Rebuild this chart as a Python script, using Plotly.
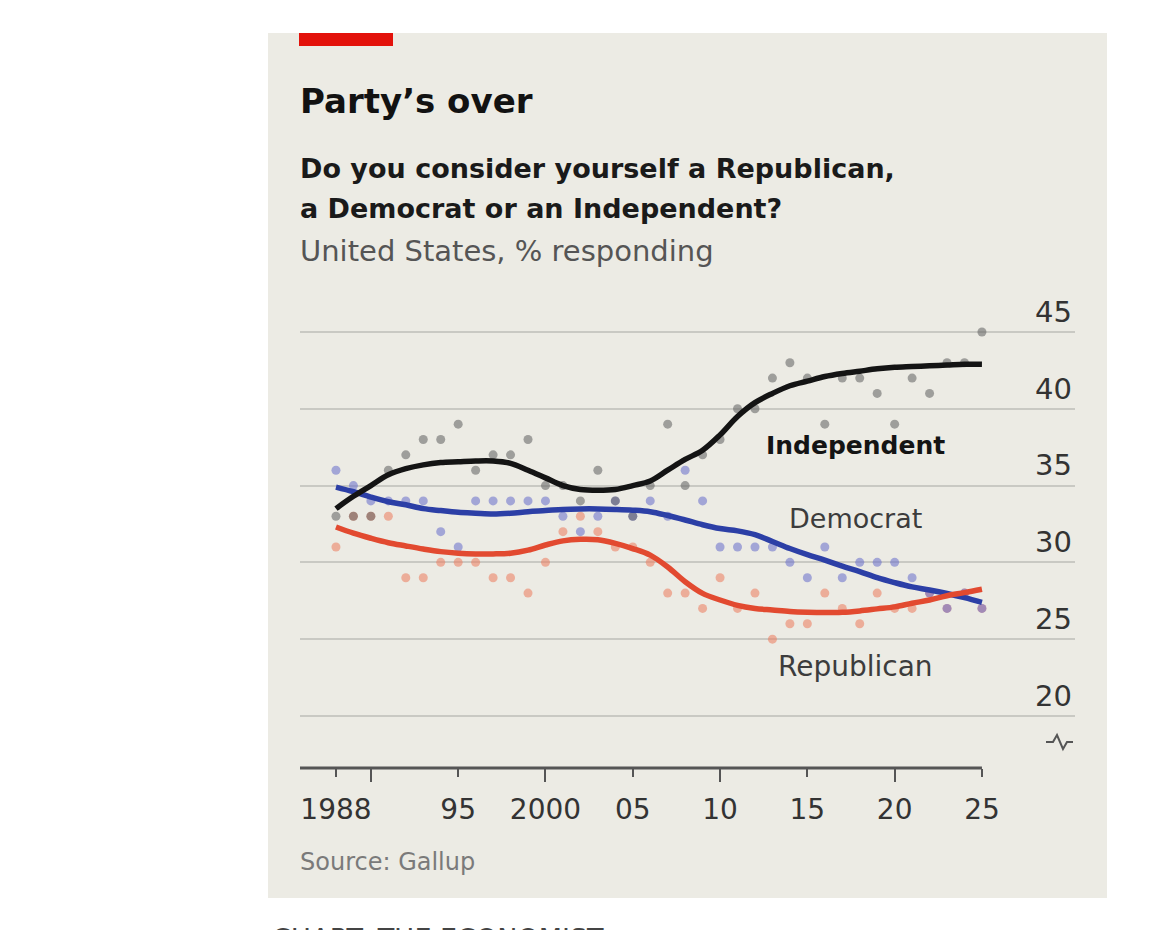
import plotly.graph_objects as go

# Gallup annual averages, % responding
years = list(range(1988, 2026))

independent = [33, 33, 33, 36, 37, 38, 38, 39, 36, 37,
               37, 38, 35, 35, 34, 36, 34, 33, 35, 39,
               35, 37, 38, 40, 40, 42, 43, 42, 39, 42,
               42, 41, 39, 42, 41, 43, 43, 45]
democrat = [36, 35, 34, 34, 34, 34, 32, 31, 34, 34,
            34, 34, 34, 33, 32, 33, 34, 33, 34, 33,
            36, 34, 31, 31, 31, 31, 30, 29, 31, 29,
            30, 30, 30, 29, 28, 27, 28, 27]
republican = [31, 33, 33, 33, 29, 29, 30, 30, 30, 29,
              29, 28, 30, 32, 33, 32, 31, 31, 30, 28,
              28, 27, 29, 27, 28, 25, 26, 26, 28, 27,
              26, 28, 27, 27, 28, 27, 28, 27]

# smoothed trend lines
independent_trend = [33.5, 34.3, 35.0, 35.7, 36.1, 36.35, 36.5, 36.55, 36.6, 36.6,
                     36.45, 36.0, 35.5, 35.0, 34.75, 34.7, 34.75, 35.0, 35.3, 36.0,
                     36.7, 37.3, 38.3, 39.5, 40.4, 41.0, 41.5, 41.8, 42.1, 42.3,
                     42.45, 42.6, 42.7, 42.75, 42.8, 42.85, 42.9, 42.9]
democrat_trend = [34.9, 34.6, 34.25, 33.95, 33.75, 33.5, 33.37, 33.26, 33.2, 33.15,
                  33.2, 33.3, 33.37, 33.45, 33.48, 33.48, 33.45, 33.4, 33.3, 33.05,
                  32.76, 32.45, 32.2, 32.05, 31.8, 31.36, 30.9, 30.5, 30.15, 29.75,
                  29.4, 29.0, 28.68, 28.4, 28.2, 27.97, 27.7, 27.4]
republican_trend = [32.3, 31.9, 31.57, 31.28, 31.07, 30.87, 30.7, 30.6, 30.55, 30.55,
                    30.6, 30.8, 31.13, 31.4, 31.5, 31.47, 31.24, 30.9, 30.47, 29.7,
                    28.74, 27.98, 27.55, 27.2, 27.0, 26.9, 26.8, 26.75, 26.73, 26.75,
                    26.84, 26.97, 27.1, 27.34, 27.55, 27.83, 28.03, 28.25]

x_tickvals = [1988, 1990, 1995, 2000, 2005, 2010, 2015, 2020, 2025]
x_ticktext = ["1988", "", "95", "2000", "05", "10", "15", "20", "25"]
y_tickvals = [20, 25, 30, 35, 40, 45]

FONT = "DejaVu Sans"
OFF = 8  # page body margin: figure starts 8px in from the window corner
W, H = 1152, 922
ML, MR, MT, MB = 292, 85, 277, 162
PW, PH = W - ML - MR, H - MT - MB
X_RANGE = [1985.94, 2030.33]
Y_RANGE = [16.61, 48.06]


# window pixels -> paper coordinates
def px(x):
    return (x - OFF - ML) / PW


def py(y):
    return (H - MB - (y - OFF)) / PH


fig = go.Figure()

dots = [(republican, "rgba(236,128,98,0.58)"),
        (democrat, "rgba(108,114,204,0.58)"),
        (independent, "rgba(95,95,95,0.55)")]
for vals, col in dots:
    fig.add_trace(go.Scatter(x=years, y=vals, mode="markers",
                             marker=dict(size=9, color=col, line=dict(width=0)),
                             hoverinfo="skip", showlegend=False))

lines = [(democrat_trend, "#2c3fa6"),
         (republican_trend, "#e24a30"),
         (independent_trend, "#141414")]
for vals, col in lines:
    fig.add_trace(go.Scatter(x=years, y=vals, mode="lines",
                             line=dict(color=col, width=5.5, shape="spline", smoothing=1),
                             hoverinfo="skip", showlegend=False))

shapes = [
    # card
    dict(type="rect", xref="paper", yref="paper", layer="below",
         x0=px(268), x1=px(1107), y0=py(898), y1=py(33),
         fillcolor="#ecebe4", line=dict(width=0)),
    # red tab
    dict(type="rect", xref="paper", yref="paper",
         x0=px(299), x1=px(393), y0=py(46), y1=py(33),
         fillcolor="#e3120b", line=dict(width=0)),
    # x axis line, stops at the last year
    dict(type="line", xref="x", yref="paper", x0=X_RANGE[0], x1=years[-1], y0=0, y1=0,
         line=dict(color="#555555", width=3)),
    # axis break mark
    dict(type="path", xref="paper", yref="paper",
         path="M {} {} L {} {} L {} {} L {} {} L {} {} L {} {}".format(
             px(1046), py(742), px(1053), py(742), px(1057), py(735),
             px(1063), py(749), px(1067), py(742), px(1073), py(742)),
         line=dict(color="#555555", width=2)),
]

annotations = [
    dict(text="<b>Party’s over</b>", x=px(298), y=py(101), font=dict(size=34, color="#121212")),
    dict(text="<b>Do you consider yourself a Republican,</b>", x=px(298), y=py(169),
         font=dict(size=27, color="#1a1a1a")),
    dict(text="<b>a Democrat or an Independent?</b>", x=px(298), y=py(208),
         font=dict(size=27, color="#1a1a1a")),
    dict(text="United States, % responding", x=px(298), y=py(251),
         font=dict(size=29, color="#555555")),
    dict(text="Source: Gallup", x=px(298), y=py(862), font=dict(size=24, color="#7a7a7a")),
    dict(text="CHART: THE ECONOMIST", x=px(270), y=py(921), yanchor="top",
         font=dict(size=27, color="#444444")),
]
for a in annotations:
    a.update(xref="paper", yref="paper", xanchor="left", showarrow=False)
    a.setdefault("yanchor", "middle")
    a["font"]["family"] = FONT

labels = [("<b>Independent</b>", 37.64, "#141414", 25),
          ("Democrat", 32.83, "#3c3c3c", 27),
          ("Republican", 23.19, "#3c3c3c", 28)]
for txt, yv, col, size in labels:
    annotations.append(dict(text=txt, x=2017.75, y=yv, xref="x", yref="y", showarrow=False,
                            xanchor="center", yanchor="middle",
                            font=dict(family=FONT, size=size, color=col)))

fig.update_layout(
    width=W, height=H,
    margin=dict(l=ML, r=MR, t=MT, b=MB, pad=0),
    paper_bgcolor="white",
    plot_bgcolor="rgba(0,0,0,0)",
    font=dict(family=FONT, color="#333333"),
    shapes=shapes,
    annotations=annotations,
    xaxis=dict(range=X_RANGE, tickvals=x_tickvals, ticktext=x_ticktext,
               ticks="outside", ticklen=8, tickwidth=2, tickcolor="#555555",
               ticklabelstandoff=8,
               minor=dict(tickvals=[1990, 2000, 2010, 2020], ticks="outside", ticklen=13,
                          tickwidth=2, tickcolor="#555555", showgrid=False),
               showgrid=False, zeroline=False, showline=False,
               tickfont=dict(size=28, color="#333333", family=FONT)),
    yaxis=dict(range=Y_RANGE, tickvals=y_tickvals, side="right",
               ticklabelposition="inside top", ticks="",
               showgrid=True, gridcolor="#c9c9c3", gridwidth=2,
               zeroline=False, showline=False,
               tickfont=dict(size=29, color="#333333", family=FONT)),
)

fig.write_html("out.html")
